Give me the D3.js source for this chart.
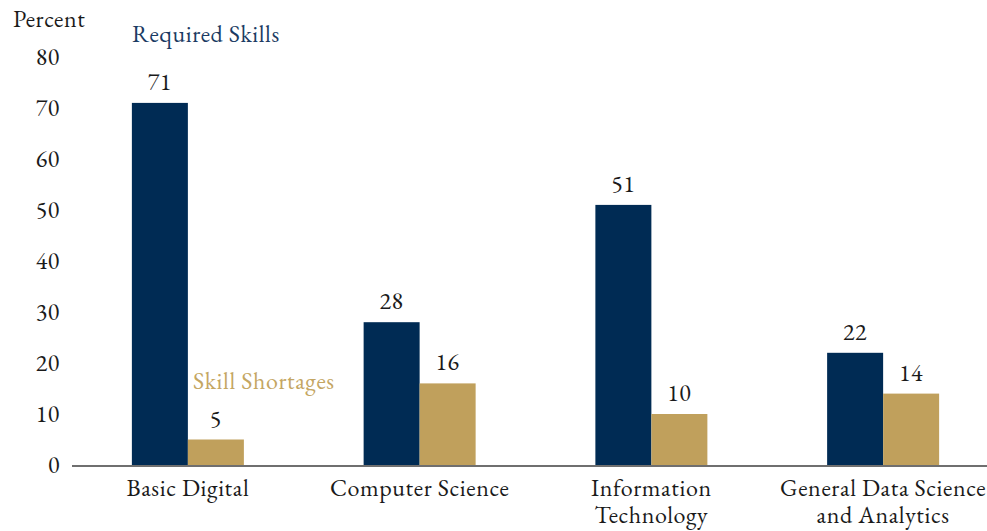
<!DOCTYPE html>
<html>
<head>
<meta charset="utf-8">
<script src="https://cdn.jsdelivr.net/npm/d3@7"></script>
<style>
  body { margin: 0; background: #fff; }
</style>
</head>
<body>
<div id="chart"></div>
<script>
const w = 987;
const h = 531;

const categories = [["Basic Digital"], ["Computer Science"], ["Information", "Technology"], ["General Data Science", "and Analytics"]];
const series = ["Required Skills", "Skill Shortages"];
const required = [71, 28, 51, 22];
const shortages = [5, 16, 10, 14];
const yTicks = [0, 10, 20, 30, 40, 50, 60, 70, 80];
const colors = ["#002b54", "#c0a05c"];
const labelColors = ["#1b3b63", "#c4a662"];

const font = "'EB Garamond', 'Liberation Serif', serif";
const fs = 24;
const ls = "0.6px";

const dataset = categories.map((c, i) => ({ key: c.join(" "), lines: c, values: [required[i], shortages[i]] }));

const svg = d3.select("#chart").append("svg")
    .attr("width", w)
    .attr("height", h);

const x0 = d3.scaleBand()
    .domain(dataset.map(d => d.key))
    .range([72, 999])
    .padding(0);

const barW = 56;
const x1 = d3.scaleBand()
    .domain(series)
    .range([0, barW * 2]);

const yScale = d3.scaleLinear()
    .domain([0, 80])
    .range([465, 57]);

const styleText = sel => sel
    .style("font-family", font)
    .style("font-size", fs + "px")
    .style("letter-spacing", ls);

// y axis labels only, no line
const yAxis = d3.axisLeft(yScale).tickValues(yTicks).tickSize(0).tickPadding(0);
const gy = svg.append("g")
    .attr("transform", "translate(60,0)")
    .call(yAxis);
gy.select(".domain").remove();
gy.selectAll("text")
    .call(styleText)
    .attr("fill", "#1a1a1a");

svg.append("text")
    .attr("x", 13)
    .attr("y", 27)
    .call(styleText)
    .attr("fill", "#1a1a1a")
    .text("Percent");

const groups = svg.selectAll(".cat")
    .data(dataset)
    .enter()
    .append("g")
    .attr("class", "cat")
    .attr("transform", d => "translate(" + (x0(d.key) + (x0.bandwidth() - barW * 2) / 2) + ",0)");

groups.selectAll("rect")
    .data(d => d.values.map((v, i) => ({ s: series[i], v: v, i: i })))
    .enter()
    .append("rect")
    .attr("x", d => x1(d.s))
    .attr("y", d => yScale(d.v))
    .attr("width", x1.bandwidth())
    .attr("height", d => yScale(0) - yScale(d.v))
    .style("fill", d => colors[d.i]);

groups.selectAll(".val")
    .data(d => d.values.map((v, i) => ({ s: series[i], v: v, i: i })))
    .enter()
    .append("text")
    .attr("class", "val")
    .attr("x", d => x1(d.s) + x1.bandwidth() / 2)
    .attr("y", d => yScale(d.v) - 13)
    .attr("text-anchor", "middle")
    .call(styleText)
    .attr("fill", "#1a1a1a")
    .text(d => d.v);

// x axis baseline
svg.append("line")
    .attr("x1", 72)
    .attr("x2", w)
    .attr("y1", yScale(0) + 1)
    .attr("y2", yScale(0) + 1)
    .attr("stroke", "#6f6f6f")
    .attr("stroke-width", 2);

// category labels
const catLabels = svg.selectAll(".catlab")
    .data(dataset)
    .enter()
    .append("text")
    .attr("class", "catlab")
    .attr("text-anchor", "middle")
    .call(styleText)
    .attr("fill", "#1a1a1a");

catLabels.selectAll("tspan")
    .data(d => d.lines.map(l => ({ l: l, x: x0(d.key) + x0.bandwidth() / 2 })))
    .enter()
    .append("tspan")
    .attr("x", d => d.x)
    .attr("y", (d, i) => 496 + i * 27)
    .text(d => d.l);

// series labels
svg.append("text")
    .attr("x", x0(dataset[0].key) + (x0.bandwidth() - barW * 2) / 2)
    .attr("y", 42)
    .call(styleText)
    .attr("fill", labelColors[0])
    .text(series[0]);

svg.append("text")
    .attr("x", 193)
    .attr("y", 389)
    .call(styleText)
    .attr("fill", labelColors[1])
    .text(series[1]);
</script>
</body>
</html>
